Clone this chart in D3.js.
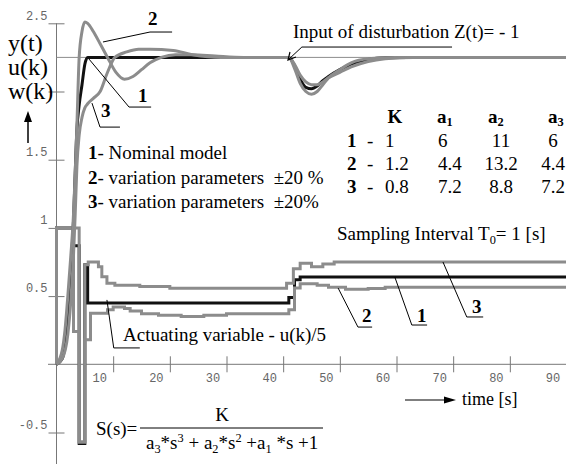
<!DOCTYPE html>
<html>
<head>
<meta charset="utf-8">
<script src="https://cdn.jsdelivr.net/npm/d3@7"></script>
<style>
  html, body { margin: 0; padding: 0; background: #fff; }
  svg text { font-family: "Liberation Serif", "Times New Roman", serif; white-space: pre; }
</style>
</head>
<body>
<svg id="chart" width="566" height="464"></svg>
<script>
// ---- datos ----
var xTicks = [10, 20, 30, 40, 50, 60, 70, 80, 90];
var yTicks = [2.5, 2, 1.5, 1, 0.5, -0.5];
var yTickLabels = ["2.5", "", "1.5", "1", "0.5", "-0.5"];
var setpoint = 2.25;

// salida y(t) [t, valor]
var yNominal = [[0,0],[1,0.04],[2,0.35],[2.5,0.68],[3,1.05],[3.3,1.4],[3.6,1.72],[4,1.9],[4.5,2.05],[5,2.2],[5.5,2.25],
  [41,2.25],[42,2.19],[43,2.09],[44,2.03],[45,2.02],[46,2.04],[47,2.08],[48,2.11],[50,2.16],[52,2.2],[55,2.235],[58,2.248],[62,2.25],[92,2.25]];
var yVar2 = [[0,0],[1,0.1],[1.5,0.25],[2,0.5],[2.5,0.78],[3,1.1],[3.3,1.4],[3.6,1.75],[4,2.25],[4.5,2.44],[5,2.51],[5.5,2.5],
  [6.5,2.44],[7.7,2.35],[9,2.25],[10.5,2.14],[12,2.09],[13.5,2.11],[15,2.16],[16.5,2.21],[18.5,2.25],[21,2.27],[24,2.27],[28,2.26],[33,2.25],
  [41,2.25],[42,2.17],[43,2.06],[44,2.0],[45,1.98],[46,2.0],[47,2.05],[48,2.1],[50,2.16],[52,2.21],[55,2.24],[60,2.25],[92,2.25]];
var yVar3 = [[0,0],[1,0.04],[2,0.22],[2.5,0.45],[3,0.8],[3.3,1.1],[3.6,1.45],[4,1.68],[4.5,1.81],[5,1.88],[5.5,1.91],[6.5,1.95],
  [7.7,2.0],[8.9,2.13],[10.3,2.25],[12.4,2.29],[14.5,2.31],[16.5,2.31],[20.6,2.3],[24,2.27],[29,2.25],
  [41,2.25],[42,2.2],[43,2.12],[44,2.07],[45,2.05],[46,2.05],[47,2.07],[48,2.1],[50,2.14],[52,2.18],[55,2.22],[58,2.24],[63,2.25],[92,2.25]];

// variable manipulada u(k)/5, escalones [t, valor]
var uNominal = [[0,0],[0,1],[3,0.87],[4,-0.58],[5,0.73],[5.5,0.45],[41,0.49],[42,0.62],[43,0.64],[92,0.64]];
var uVar2 = [[0,0],[0,1],[3,0.24],[4,-0.57],[5,0.18],[6,0.375],[9,0.4],[10,0.42],[12,0.41],[13,0.39],[15,0.37],[18,0.36],
  [22,0.35],[26,0.36],[30,0.37],[41,0.4],[42,0.56],[43,0.59],[46,0.58],[48,0.565],[51,0.55],[55,0.555],[58,0.565],[92,0.565]];
var uVar3 = [[0,0],[0,1],[4,-0.57],[5,0.73],[5.6,0.75],[7.4,0.716],[8,0.642],[8.9,0.594],[10.3,0.58],[14.7,0.57],[20,0.557],
  [40.6,0.594],[41.8,0.7],[43,0.74],[45,0.716],[47,0.735],[49,0.75],[92,0.75]];

// tabla de parametros
var models = ["1", "2", "3"];
var paramK = ["1", "1.2", "0.8"];
var paramA1 = ["6", "4.4", "7.2"];
var paramA2 = ["11", "13.2", "8.8"];
var paramA3 = ["6", "4.4", "7.2"];

// ---- grafico ----
var svg = d3.select('#chart');
var W = 566, H = 464;
var grey = '#8c8c8c', axisColor = '#777';

var x = d3.scaleLinear().domain([0, 90]).range([56.5, 566.5]);
var y = d3.scaleLinear().domain([-0.5, 2.5]).range([432.5, 23.3]);

// Ejes
svg.append('line').attr('x1', 48).attr('x2', W).attr('y1', y(0)).attr('y2', y(0))
  .attr('stroke', axisColor);
svg.append('line').attr('x1', x(0)).attr('x2', x(0)).attr('y1', y(2.5)).attr('y2', H)
  .attr('stroke', axisColor);

var gx = svg.append('g').attr('transform', 'translate(0,' + y(0) + ')')
  .call(d3.axisBottom(x).tickValues(xTicks).tickSize(0));
gx.select('.domain').remove();
gx.attr('font-family', '"Liberation Mono", monospace').attr('font-size', 12);
gx.selectAll('.tick line').attr('y1', -8).attr('y2', 8).attr('stroke', axisColor);
gx.selectAll('.tick text').attr('x', -14).attr('y', 14).attr('dy', '0.35em').attr('fill', '#666')
  .style('font-family', '"Liberation Mono", monospace');

var gy = svg.append('g').attr('transform', 'translate(' + x(0) + ',0)')
  .call(d3.axisLeft(y).tickValues(yTicks).tickSize(0).tickFormat(function (d, i) { return yTickLabels[i]; }));
gy.select('.domain').remove();
gy.attr('font-family', '"Liberation Mono", monospace').attr('font-size', 12);
gy.selectAll('.tick line').attr('x1', -8).attr('x2', 8).attr('stroke', axisColor);
gy.selectAll('.tick text').attr('x', -9).attr('y', -8).attr('dy', '0.32em').attr('fill', '#666')
  .style('font-family', '"Liberation Mono", monospace');

// Consigna w(k)
svg.append('line').attr('x1', x(0)).attr('x2', W).attr('y1', y(setpoint)).attr('y2', y(setpoint))
  .attr('stroke', grey).attr('stroke-width', 1);

var plot = svg.append('g');

var stepLine = d3.line().x(function (d) { return x(d[0]); }).y(function (d) { return y(d[1]); })
  .curve(d3.curveStepAfter);
var smoothLine = d3.line().x(function (d) { return x(d[0]); }).y(function (d) { return y(d[1]); })
  .curve(d3.curveMonotoneX);

function draw(data, gen, color) {
  plot.append('path').datum(data).attr('d', gen).attr('fill', 'none')
    .attr('stroke', color).attr('stroke-width', 3).attr('stroke-linejoin', 'miter');
}

draw(uNominal, stepLine, '#111');
draw(uVar2, stepLine, grey);
draw(uVar3, stepLine, grey);
draw(yNominal, smoothLine, '#111');
draw(yVar2, smoothLine, grey);
draw(yVar3, smoothLine, grey);

// ---- lineas de referencia (en unidades de datos) ----
var leaders = [
  [[8.2, 2.363], [16.5, 2.436], [20.4, 2.436]],
  [[5.73, 2.238], [12.8, 1.886], [16.7, 1.886]],
  [[6.26, 1.915], [7.68, 1.739], [11.2, 1.739]],
  [[40.85, 2.231], [43.3, 2.326], [69.8, 2.326]],
  [[8.9, 0.472], [10.1, 0.12], [14.7, 0.12]],
  [[49.7, 0.559], [53.2, 0.273], [55.7, 0.273]],
  [[59.7, 0.64], [62.7, 0.288], [65.4, 0.288]],
  [[68.2, 0.75], [72.4, 0.347], [75.3, 0.347]]
];
var lin = d3.line().x(function (d) { return x(d[0]); }).y(function (d) { return y(d[1]); });
leaders.forEach(function (l) {
  svg.append('path').attr('d', lin(l)).attr('fill', 'none').attr('stroke', '#000').attr('stroke-width', 1);
});
// punta de flecha de la perturbacion
var tip = [x(40.85), y(2.231)];
svg.append('path').attr('d', 'M' + (tip[0] + 2) + ',' + (tip[1] - 8) + 'L' + tip[0] + ',' + tip[1] + 'L' + (tip[0] + 8) + ',' + (tip[1] - 3))
  .attr('fill', 'none').attr('stroke', '#000').attr('stroke-width', 1.2);

// flechas de ejes
svg.append('path').attr('d', 'M28,143V116').attr('stroke', '#000').attr('stroke-width', 1.5);
svg.append('path').attr('d', 'M24,122L28,111L32,122Z').attr('fill', '#000');
svg.append('path').attr('d', 'M405,400H450').attr('stroke', '#000').attr('stroke-width', 1.2);
svg.append('path').attr('d', 'M444,396.5L456,400L444,403.5Z').attr('fill', '#000');

// ---- textos ----
function txt(xp, yp, parts, size, anchor) {
  var t = svg.append('text').attr('x', xp).attr('y', yp).attr('font-size', size || 19)
    .attr('text-anchor', anchor || 'start').attr('fill', '#000');
  parts.forEach(function (p) {
    var s = typeof p === 'string' ? { t: p } : p;
    var ts = t.append('tspan').text(s.t);
    if (s.b) ts.attr('font-weight', 'bold');
    if (s.sub) ts.attr('font-size', (size || 19) * 0.65).attr('dy', s.dy || 4);
    if (s.sup) ts.attr('font-size', (size || 19) * 0.65).attr('dy', -7);
    if (s.back) ts.attr('dy', s.back);
  });
  return t;
}

txt(8, 51, ['y(t)'], 24);
txt(8, 75, ['u(k)'], 24);
txt(8, 99, ['w(k)'], 24);

txt(148, 25, [{ t: '2', b: true }]);
txt(138, 102, [{ t: '1', b: true }]);
txt(101, 117, [{ t: '3', b: true }]);
txt(362, 322, [{ t: '2', b: true }]);
txt(417, 322, [{ t: '1', b: true }]);
txt(472, 313, [{ t: '3', b: true }]);

txt(293, 38, ['Input of disturbation Z(t)= - 1']);
txt(337, 240, ['Sampling Interval T', { t: '0', sub: true }, { t: '= 1 [s]', back: -4 }]);
txt(123, 341, ['Actuating variable - u(k)/5']);
txt(462, 405, ['time [s]'], 18);

txt(88, 159, [{ t: '1', b: true }, '- Nominal model']);
txt(88, 184, [{ t: '2', b: true }, '- variation parameters  \u00b120 %']);
txt(88, 208, [{ t: '3', b: true }, '- variation parameters  \u00b120%']);

// tabla
txt(395, 123, [{ t: 'K', b: true }], 19, 'middle');
txt(437, 123, [{ t: 'a', b: true }, { t: '1', b: true, sub: true, dy: 3 }]);
txt(488, 123, [{ t: 'a', b: true }, { t: '2', b: true, sub: true, dy: 3 }]);
txt(548, 123, [{ t: 'a', b: true }, { t: '3', b: true, sub: true, dy: 3 }]);
var rowY = [147, 170, 193];
models.forEach(function (m, i) {
  txt(347, rowY[i], [{ t: m, b: true }]);
  txt(367, rowY[i], ['-']);
  txt(385, rowY[i], [paramK[i]]);
  txt(438, rowY[i], [paramA1[i]]);
  txt(501, rowY[i], [paramA2[i]], 19, 'middle');
  txt(553, rowY[i], [paramA3[i]], 19, 'middle');
});

// funcion de transferencia
txt(96, 435, ['S(s)=']);
txt(222, 421, ['K'], 19, 'middle');
svg.append('line').attr('x1', 140).attr('x2', 323).attr('y1', 428).attr('y2', 428)
  .attr('stroke', '#000').attr('stroke-width', 1);
txt(146, 449, ['a', { t: '3', sub: true }, { t: '*s', back: -4 }, { t: '3', sup: true }, { t: ' + a', back: 7 },
  { t: '2', sub: true }, { t: '*s', back: -4 }, { t: '2', sup: true }, { t: ' +a', back: 7 },
  { t: '1', sub: true }, { t: ' *s +1', back: -4 }]);
</script>
</body>
</html>
